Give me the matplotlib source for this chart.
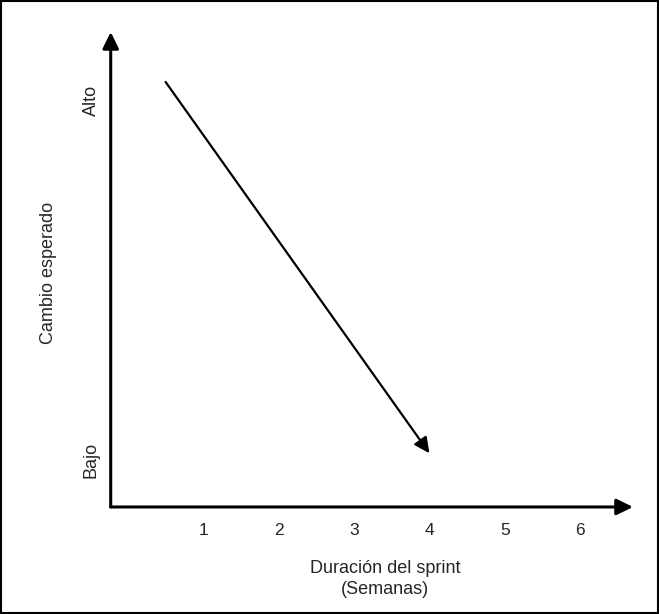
import matplotlib
matplotlib.use("Agg")
import matplotlib.pyplot as plt
from matplotlib.patches import Rectangle

plt.rcParams['font.family'] = ['Liberation Sans', 'DejaVu Sans']

# Data
x_ticks = [1, 2, 3, 4, 5, 6]
x_tick_labels = ['1', '2', '3', '4', '5', '6']
y_ticks = [1, 9]
y_tick_labels = ['Bajo', 'Alto']
trend_x = [0.5, 4.0]
trend_y = [9.4, 1.15]

TXT = '#262626'
head = '-|>,head_length=0.55,head_width=0.27'

fig = plt.figure(figsize=(6.59, 6.14), dpi=100)
ax = fig.add_axes([0.168, 0.1743, 0.7925, 0.7736])
ax.set_xlim(-0.228, 6.70)
ax.set_ylim(-0.044, 10.51)

for s in ax.spines.values():
    s.set_visible(False)

# axis arrows
ax.annotate('', xy=(1.0, 0), xytext=(0, 0), xycoords='axes fraction',
            arrowprops=dict(arrowstyle=head, lw=2.2, color='black',
                            mutation_scale=18, shrinkA=0, shrinkB=0))
ax.annotate('', xy=(0, 1.0), xytext=(0, 0), xycoords='axes fraction',
            arrowprops=dict(arrowstyle=head, lw=2.2, color='black',
                            mutation_scale=18, shrinkA=0, shrinkB=0))

# trend arrow
ax.annotate('', xy=(trend_x[1], trend_y[1]), xytext=(trend_x[0], trend_y[0]),
            arrowprops=dict(arrowstyle=head, lw=1.6, color='black',
                            mutation_scale=17, shrinkA=0, shrinkB=0))

ax.set_xticks(x_ticks, x_tick_labels)
ax.set_yticks(y_ticks, y_tick_labels)
ax.tick_params(axis='x', length=0, pad=11.5, labelsize=12.5, colors=TXT)
ax.tick_params(axis='y', length=0, pad=8, labelsize=13, colors=TXT)
for lbl in ax.get_yticklabels():
    lbl.set_rotation(90)
    lbl.set_va('center')

ax.set_xlabel('Duración del sprint\n(Semanas)', fontsize=13, color=TXT,
              linespacing=1.3)
ax.xaxis.set_label_coords(0.525, -0.152)
ax.xaxis.label.set_va('center')
ax.set_ylabel('Cambio esperado', fontsize=13, color=TXT)
ax.yaxis.set_label_coords(-0.12, 0.493)
ax.yaxis.label.set_va('center')

fig.patches.append(Rectangle((0.001, 0.001), 0.997, 0.997, transform=fig.transFigure,
                             fill=False, edgecolor='black', linewidth=1.5))

fig.savefig('out.png', dpi=100)
